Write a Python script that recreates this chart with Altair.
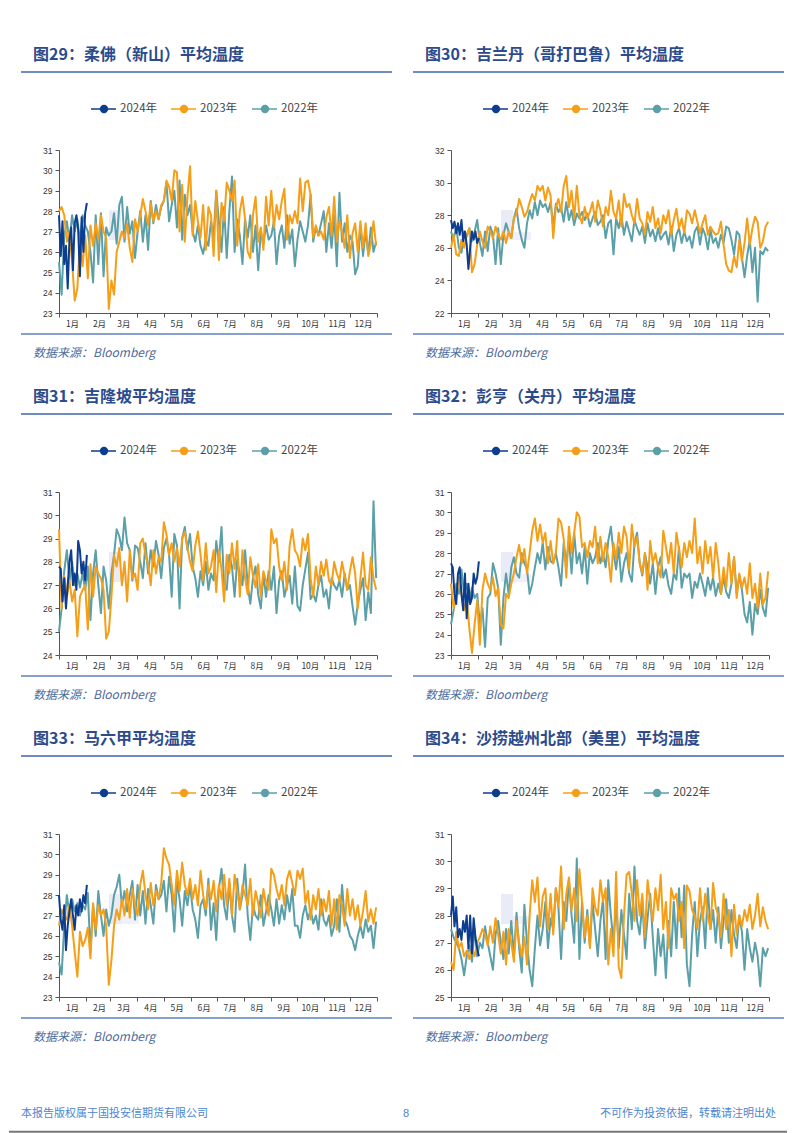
import altair as alt
import pandas as pd

SERIES = ["2024年", "2023年", "2022年"]
COLORS = {"2024年": "#0C3D8E", "2023年": "#F59E17", "2022年": "#5B9FA8"}
MONTH_STARTS = [0, 31, 59, 90, 120, 151, 181, 212, 243, 273, 304, 334, 365]

TITLES = [
    "图29：柔佛（新山）平均温度",
    "图30：吉兰丹（哥打巴鲁）平均温度",
    "图31：吉隆坡平均温度",
    "图32：彭亨（关丹）平均温度",
    "图33：马六甲平均温度",
    "图34：沙捞越州北部（美里）平均温度",
]
Y_DOMAINS = [[23, 31], [22, 32], [24, 31], [23, 31], [23, 31], [25, 31]]
Y_TICKS = [
    [23, 24, 25, 26, 27, 28, 29, 30, 31],
    [22, 24, 26, 28, 30, 32],
    [24, 25, 26, 27, 28, 29, 30, 31],
    [23, 24, 25, 26, 27, 28, 29, 30, 31],
    [23, 24, 25, 26, 27, 28, 29, 30, 31],
    [25, 26, 27, 28, 29, 30, 31],
]
SOURCE = "数据来源：Bloomberg"
FOOTER_LEFT = "本报告版权属于国投安信期货有限公司"
FOOTER_MID = "8"
FOOTER_RIGHT = "不可作为投资依据，转载请注明出处"

JOHOR_2022 = [
    25.5, 23.9, 26.8, 27.5, 26.5, 27.8, 27.0, 27.6, 26.5, 27.8, 27.3,
    27.0, 26.0, 24.5, 27.8, 25.4, 27.9, 24.8, 27.2, 26.8,
    27.0, 27.9, 26.4, 28.3, 28.7, 26.5, 28.2, 26.9, 27.5, 25.7,
    27.0, 28.0, 26.5, 27.8, 26.1, 28.5, 27.4, 28.3, 27.6, 28.2,
    28.5, 29.4, 27.5, 28.3, 29.0, 27.2, 29.5, 26.6, 28.8, 27.8, 28.3,
    27.0, 26.5, 27.3, 26.3, 25.9, 26.6, 26.3, 27.5, 26.8, 29.0,
    27.5, 26.0, 28.2, 25.7, 28.0, 29.7, 26.0, 27.6, 26.8, 25.4,
    27.6, 26.7, 27.8, 26.0, 27.3, 25.1, 27.0, 26.4, 27.3, 26.6,
    26.8, 27.5, 25.4, 26.8, 27.3, 26.2, 27.8, 26.4, 27.1, 25.3,
    26.6, 27.5, 27.0, 26.5, 27.3, 28.8, 26.5, 27.2, 26.8, 27.4, 28.0,
    26.0, 27.4, 26.2, 27.8, 25.3, 28.9, 26.5, 27.4, 26.0, 26.8,
    26.5, 24.9, 25.3, 27.3, 25.8, 27.0, 25.9, 27.2, 26.0, 26.5,
]
JOHOR_2023 = [
    28.0, 28.2, 27.8, 26.5, 27.0, 25.5, 23.6, 24.2, 26.5, 25.3, 26.8,
    24.7, 27.3, 26.3, 27.4, 26.6, 27.8, 27.0, 26.7, 23.2,
    24.6, 23.9, 26.0, 26.5, 27.0, 26.7, 27.4, 26.2, 25.5, 27.6,
    27.0, 27.8, 28.6, 28.0, 27.3, 28.4, 27.5, 28.0, 27.6, 28.3,
    28.5, 29.5, 29.2, 28.5, 30.0, 29.9, 27.0, 29.3, 26.5, 28.7, 30.2,
    26.8, 28.5, 27.5, 26.7, 28.3, 26.1, 28.2, 27.8, 25.8, 29.0,
    25.6, 28.4, 27.5, 29.4, 29.0, 28.5, 29.5, 26.3, 28.0, 28.7,
    27.6, 26.0, 25.7, 27.8, 28.7, 26.5, 27.2, 26.1, 28.7, 27.3,
    29.0, 27.2, 28.3, 27.6, 28.5, 29.1, 26.6, 27.8, 27.4, 28.0,
    27.4, 29.6, 28.0, 29.4, 29.5, 28.8, 26.7, 27.3, 26.8, 27.0, 26.6,
    27.7, 28.2, 26.8, 28.7, 26.5, 27.5, 27.0, 26.2, 27.8, 25.7,
    26.9, 27.4, 26.0, 27.5, 26.2, 27.4, 25.8, 26.4, 27.5, 26.3,
]
JOHOR_2024 = [27.8, 25.8, 27.5, 25.4, 26.3, 24.2, 26.6, 27.2, 25.1, 27.4, 27.8, 27.1, 24.8, 27.7, 26.0, 27.9, 28.4]

KELANTAN_2022 = [
    27.0, 26.5, 27.3, 26.0, 25.7, 27.0, 26.7, 27.2, 26.4, 27.0, 27.7,
    26.3, 25.5, 27.0, 25.8, 27.3, 26.8, 25.0, 27.2, 25.0,
    26.8, 27.5, 27.0, 26.6, 27.8, 28.4, 27.2, 26.5, 26.0, 27.5,
    28.3, 27.8, 28.8, 28.0, 28.9, 28.5, 28.7, 28.2, 28.8, 27.3,
    28.7, 28.2, 28.5, 27.6, 28.8, 27.7, 28.3, 27.4, 28.1, 27.8, 28.2,
    27.7, 28.1, 27.3, 27.8, 28.2, 27.4, 27.6, 28.0, 26.6, 27.5,
    27.7, 25.6, 27.8, 27.2, 28.0, 26.8, 27.6, 27.0, 26.4, 27.7,
    27.2, 26.8, 27.3, 26.3, 27.5, 26.7, 27.1, 26.4, 27.2, 26.5,
    26.8, 27.0, 26.2, 27.3, 25.8, 26.8, 27.2, 26.3, 27.0, 26.4,
    26.7, 26.0, 27.0, 27.3, 26.2, 27.2, 26.8, 25.9, 27.1, 26.3, 26.6,
    26.0, 26.8, 26.3, 27.3, 27.2, 26.5, 25.6, 27.0, 26.8, 25.4,
    24.2, 25.5, 26.5, 24.5, 26.0, 22.7, 25.8, 25.6, 26.0, 25.8,
]
KELANTAN_2023 = [
    26.0, 26.8, 25.6, 25.5, 26.5, 26.0, 26.8, 27.2, 24.5, 25.0, 26.2,
    27.0, 26.4, 26.0, 27.3, 27.0, 26.6, 27.3, 26.8, 26.5,
    27.0, 26.3, 27.0, 26.6, 27.8, 28.1, 29.0, 28.5, 27.9, 28.2,
    28.8, 29.3, 28.9, 29.8, 29.5, 29.8, 28.9, 29.7, 29.2, 26.6,
    28.5, 29.0, 28.2, 29.8, 30.4, 28.5, 29.5, 27.8, 29.8, 28.0, 27.5,
    28.5, 27.8, 28.2, 28.8, 27.6, 28.9, 28.3, 27.3, 28.5, 28.0,
    29.5, 28.2, 27.8, 28.9, 27.3, 29.3, 28.5, 28.7, 28.0, 27.5,
    29.0, 27.8, 27.5, 26.8, 28.2, 27.6, 28.5, 27.2, 27.8, 26.9,
    28.0, 27.5, 28.3, 26.8, 27.7, 28.4, 27.2, 27.8, 26.9, 28.3,
    28.1, 27.5, 28.3, 27.6, 26.9, 27.5, 28.0, 26.8, 27.3, 27.0, 26.8,
    26.9, 27.6, 26.2, 25.0, 24.6, 24.5, 25.5, 24.8, 26.5, 25.2,
    26.3, 27.8, 26.2, 27.2, 27.9, 27.6, 26.0, 26.4, 27.3, 27.6,
]
KELANTAN_2024 = [27.7, 27.2, 27.6, 26.9, 27.5, 26.8, 27.7, 26.4, 27.0, 26.2, 24.7, 26.0, 27.0, 26.5, 27.0, 26.3, 26.6]

KL_2022 = [
    25.0, 26.0, 27.6, 28.5, 27.2, 28.0, 27.0, 27.5, 26.9, 27.5, 26.8,
    27.8, 25.5, 27.5, 28.5, 27.0, 25.8, 27.8, 27.2, 26.0,
    27.5, 28.3, 29.4, 29.1, 28.5, 29.9, 28.8, 28.5, 27.2, 28.7,
    28.6, 28.0, 27.3, 28.8, 27.5, 28.5, 27.8, 28.9, 28.3, 27.3,
    28.6, 29.0, 28.3, 26.5, 29.2, 28.7, 26.0, 29.0, 29.5, 28.5, 29.2,
    27.8, 27.3, 26.5, 27.6, 27.0, 28.0, 26.8, 27.5, 27.2, 28.9,
    28.0, 29.5, 27.0, 26.8, 28.3, 27.8, 26.5, 28.1, 27.4, 27.0,
    28.5, 27.0, 26.2, 27.3, 27.8, 26.6, 26.0, 27.5, 26.5, 27.6,
    26.8, 27.8, 25.8, 27.2, 27.6, 26.5, 27.0, 27.4, 26.2, 27.8,
    26.1, 25.9, 27.0, 27.7, 28.4, 26.4, 26.6, 26.3, 27.0, 27.4, 26.5,
    26.8, 26.0, 27.3, 27.0, 26.8, 27.2, 26.5, 27.5, 26.8, 27.0,
    26.1, 25.3, 26.2, 26.8, 27.3, 25.5, 26.7, 25.8, 30.6, 27.3,
]
KL_2023 = [
    29.4, 26.0, 27.4, 26.5, 27.2, 26.3, 26.8, 24.8, 26.5, 26.8, 27.0,
    25.1, 27.9, 26.5, 27.8, 27.5, 27.3, 26.8, 24.7, 25.0,
    26.5, 28.3, 27.8, 28.6, 27.0, 28.0, 26.3, 28.5, 27.3, 27.5,
    26.8, 28.8, 29.0, 28.3, 27.9, 27.0, 28.5, 27.5, 28.2, 28.0,
    29.7, 29.2, 28.3, 28.8, 28.0, 28.6, 27.8, 29.0, 29.3, 28.6, 28.0,
    27.6, 28.7, 29.3, 28.3, 27.2, 28.8, 27.5, 27.8, 28.5, 26.7,
    28.5, 27.7, 26.3, 28.3, 27.5, 28.8, 27.7, 28.9, 26.5, 28.5,
    27.3, 26.6, 28.2, 27.4, 26.9, 27.9, 26.5, 27.6, 27.2, 26.8,
    29.4, 28.8, 29.0, 27.8, 27.2, 28.0, 26.8, 28.7, 29.4, 28.5,
    28.3, 27.8, 29.0, 28.5, 29.2, 27.3, 26.5, 27.8, 27.0, 28.0, 27.4,
    28.1, 27.2, 27.0, 28.0, 27.5, 27.2, 28.0, 27.4, 26.8, 27.6,
    28.2, 27.5, 26.0, 27.3, 28.4, 27.0, 26.8, 28.2, 27.3, 26.8,
]
KL_2024 = [27.8, 27.7, 26.3, 27.3, 26.0, 27.0, 28.0, 28.5, 27.0, 27.5, 26.8, 28.9, 28.5, 27.5, 28.0, 27.2, 28.3]

PAHANG_2022 = [
    24.5, 25.2, 26.5, 26.0, 27.2, 26.0, 26.5, 25.6, 26.3, 25.8, 26.0,
    24.5, 25.3, 23.4, 25.8, 26.0, 27.5, 27.0, 26.3, 23.5,
    25.8, 27.0, 26.0, 27.3, 27.8, 27.0, 26.8, 28.0, 27.5, 27.2,
    26.0, 26.5, 27.3, 28.0, 27.5, 28.5, 27.2, 28.3, 27.6, 27.5,
    28.0, 27.3, 26.4, 28.5, 27.5, 28.7, 27.0, 29.0, 27.5, 28.0, 27.0,
    28.3, 26.5, 28.0, 27.5, 27.8, 28.5, 27.5, 28.0, 27.3, 28.6,
    29.3, 28.0, 27.2, 28.3, 26.6, 27.5, 28.0, 27.0, 26.6, 28.5,
    29.0, 27.5, 26.9, 28.0, 27.3, 26.5, 27.5, 26.0, 27.3, 27.8,
    26.8, 27.2, 26.4, 26.0, 27.0, 26.7, 28.3, 26.3, 27.0, 26.8,
    27.0, 25.8, 26.6, 26.3, 27.0, 26.5, 25.9, 26.8, 26.2, 26.8, 25.9,
    26.5, 26.0, 26.8, 26.1, 25.8, 26.5, 27.8, 26.0, 26.9, 26.2,
    25.0, 24.6, 25.6, 24.0, 25.5, 25.0, 26.2, 25.3, 24.9, 26.3,
]
PAHANG_2023 = [
    26.5, 25.3, 25.8, 26.8, 26.0, 25.2, 25.8, 24.3, 23.1, 24.5, 25.7,
    23.5, 26.2, 27.0, 26.5, 26.2, 26.8, 25.9, 26.3, 24.5,
    24.3, 26.0, 25.8, 26.5, 27.0, 27.8, 28.4, 27.5, 28.2, 27.0,
    28.0, 29.1, 29.7, 28.6, 29.4, 28.5, 29.0, 27.5, 28.6, 27.5,
    28.0, 29.7, 29.5, 28.7, 26.8, 29.3, 28.0, 29.0, 30.0, 29.8, 28.3,
    28.5, 27.8, 28.6, 28.3, 29.3, 27.5, 28.8, 27.6, 28.5, 27.8,
    26.6, 28.5, 27.7, 29.0, 28.0, 29.3, 28.8, 27.2, 29.4, 28.3,
    28.8, 27.5, 27.0, 28.0, 26.2, 28.6, 27.5, 28.0, 27.3, 26.8,
    29.1, 28.3, 27.5, 28.5, 27.0, 29.0, 28.2, 27.3, 28.5, 27.8,
    28.6, 28.0, 29.7, 27.5, 28.3, 27.0, 28.6, 27.5, 28.3, 26.8, 28.5,
    27.5, 26.0, 27.3, 26.3, 28.0, 26.5, 27.8, 25.8, 27.0, 26.3,
    26.8, 26.0, 27.5, 25.8, 26.5, 25.3, 27.0, 25.5, 25.8, 27.1,
]
PAHANG_2024 = [27.5, 27.3, 26.0, 25.5, 27.0, 27.3, 26.0, 25.2, 27.0, 24.8, 26.5, 25.5, 25.8, 27.0, 26.5, 26.8, 27.6]

MELAKA_2022 = [
    24.7, 24.1, 26.5, 28.0, 27.0, 27.8, 27.2, 27.6, 27.0, 27.5, 27.3,
    28.1, 25.2, 27.5, 26.0, 28.2, 27.0, 26.0, 27.3, 26.5,
    27.0, 28.0, 28.4, 29.0, 27.5, 28.2, 27.2, 28.0, 28.7, 26.8,
    28.5, 27.0, 28.2, 26.6, 28.3, 27.5, 26.6, 28.5, 27.8, 28.0,
    28.7, 27.2, 28.9, 28.0, 26.2, 28.7, 27.8, 26.5, 28.2, 27.5, 28.5,
    27.3, 26.8, 25.9, 27.5, 27.8, 27.0, 28.8, 26.3, 27.6, 25.8,
    28.3, 29.3, 27.5, 26.8, 28.6, 27.0, 26.2, 28.8, 27.3, 28.0,
    29.5, 27.0, 25.8, 27.5, 27.0, 26.8, 28.0, 26.5, 27.2, 28.0,
    27.3, 26.5, 27.8, 26.6, 27.5, 26.8, 28.0, 27.2, 28.3, 26.5,
    26.5, 25.9, 27.0, 27.5, 26.8, 27.3, 26.6, 27.0, 26.3, 27.8, 26.8,
    26.5, 27.0, 26.0, 26.5, 27.8, 26.2, 28.5, 26.8, 26.5, 26.0,
    25.8, 25.3, 26.0, 26.5, 25.9, 26.8, 26.2, 26.5, 25.4, 26.7,
]
MELAKA_2023 = [
    26.5, 27.3, 27.0, 26.8, 27.5, 26.5, 25.2, 24.0, 26.2, 25.5, 25.8,
    26.4, 24.9, 27.6, 26.3, 27.5, 27.0, 27.3, 26.5, 23.6,
    24.8, 26.5, 27.3, 26.8, 27.8, 27.0, 28.3, 26.9, 28.3, 27.5,
    27.0, 28.5, 29.2, 28.0, 27.3, 28.6, 27.5, 28.2, 27.8, 28.6,
    30.3, 29.8, 29.5, 28.5, 27.5, 29.2, 28.2, 29.6, 28.5, 28.0, 28.8,
    27.8, 28.5, 27.5, 29.2, 28.0, 27.3, 28.5, 27.8, 28.7, 27.2,
    28.5, 27.8, 29.0, 27.5, 28.8, 27.0, 29.0, 28.2, 27.3, 28.5,
    28.0, 27.5, 28.8, 27.0, 28.2, 27.6, 26.9, 28.3, 27.5, 27.0,
    29.3, 29.0, 28.3, 27.8, 28.5, 27.5, 28.8, 29.2, 28.6, 28.0,
    29.2, 28.8, 29.3, 27.6, 28.2, 26.8, 28.0, 27.3, 28.3, 27.0, 27.8,
    27.2, 28.2, 26.5, 27.8, 26.3, 28.0, 27.5, 26.5, 28.3, 27.0,
    27.8, 26.8, 27.5, 26.5, 27.2, 28.2, 26.7, 27.3, 26.6, 27.4,
]
MELAKA_2024 = [28.0, 26.8, 26.3, 27.5, 25.3, 26.5, 27.2, 27.8, 27.0, 26.3, 27.5, 27.0, 27.8, 27.2, 28.0, 27.6, 28.5]

MIRI_2022 = [
    27.5, 27.2, 27.0, 26.8, 26.4, 25.8, 26.5, 26.9, 26.3, 27.5, 26.5,
    27.0, 26.8, 27.6, 27.0, 26.5, 26.0, 27.3, 27.8, 27.0,
    26.4, 27.5, 26.6, 27.8, 26.5, 28.1, 26.8, 25.9, 28.4, 27.0,
    26.0, 25.4, 26.8, 28.0, 26.9, 27.5, 28.5, 26.8, 27.9, 27.5,
    29.0, 28.3, 26.4, 28.5, 27.8, 29.3, 28.0, 27.0, 30.1, 26.4, 28.5,
    27.0, 28.2, 26.9, 28.5, 27.5, 26.5, 27.8, 28.6, 26.4, 29.3,
    28.0, 27.0, 28.5, 26.8, 28.2, 27.3, 26.4, 28.8, 27.5, 29.8,
    27.8, 27.3, 28.5, 26.8, 27.9, 28.8, 27.2, 25.8, 27.5, 26.5,
    27.3, 25.7, 27.8, 26.5, 28.5, 26.8, 29.0, 27.2, 29.1, 26.2,
    25.4, 27.3, 28.5, 26.5, 27.8, 28.3, 26.8, 29.0, 27.5, 28.2, 27.0,
    28.3, 26.8, 27.8, 28.6, 27.0, 28.2, 27.3, 26.8, 28.0, 27.4,
    26.0, 27.5, 26.8, 26.3, 27.0, 26.5, 25.4, 26.8, 26.5, 26.8,
]
MIRI_2023 = [
    26.3, 26.0, 27.4, 26.8, 27.0, 26.5, 26.7, 26.4, 26.8, 26.5, 27.0,
    27.2, 27.5, 27.3, 26.9, 27.6, 27.0, 27.9, 27.3, 26.6,
    27.4, 26.2, 27.5, 27.0, 26.3, 27.8, 27.0, 26.5, 27.2, 26.2,
    28.0, 29.3, 28.5, 29.4, 27.6, 28.7, 29.0, 27.5, 28.8, 27.3,
    29.0, 28.3, 29.8, 27.5, 28.8, 29.4, 28.2, 29.0, 27.8, 29.7, 28.5,
    27.2, 28.0, 26.8, 29.0, 28.3, 28.0, 29.3, 28.5, 29.0, 26.2,
    27.5, 26.5, 29.6, 26.1, 25.7, 28.0, 29.5, 29.6, 28.8, 27.8,
    29.3, 28.0, 28.8, 27.2, 29.3, 28.5, 27.8, 29.0, 28.2, 29.5,
    27.5, 28.5, 26.8, 29.0, 28.6, 28.8, 27.8, 28.5, 26.8, 29.1,
    28.9, 28.2, 28.0, 27.5, 29.0, 27.8, 28.8, 28.0, 27.5, 29.2, 28.3,
    28.0, 27.2, 28.8, 27.5, 28.2, 26.5, 28.4, 27.3, 28.0, 27.6,
    28.2, 27.8, 28.4, 27.5, 28.0, 28.8, 27.6, 28.3, 27.8, 27.5,
]
MIRI_2024 = [28.0, 28.7, 27.6, 28.3, 27.2, 27.5, 27.1, 27.8, 27.4, 28.0, 26.8, 28.0, 26.6, 27.9, 27.2, 26.8, 26.5]

PANELS = [
    (JOHOR_2022, JOHOR_2023, JOHOR_2024),
    (KELANTAN_2022, KELANTAN_2023, KELANTAN_2024),
    (KL_2022, KL_2023, KL_2024),
    (PAHANG_2022, PAHANG_2023, PAHANG_2024),
    (MELAKA_2022, MELAKA_2023, MELAKA_2024),
    (MIRI_2022, MIRI_2023, MIRI_2024),
]

W, H = 318, 163
ROW_PITCH = 341.4
TOP_B, BOT_B = -115, -115 + ROW_PITCH
ONE = pd.DataFrame({"k": [0]})

TITLE_COLOR = "#2C4B8D"
RULE_COLOR = "#3E66AD"
SRC_RULE_COLOR = "#5C80BC"
SRC_COLOR = "#4D6A9E"
AXIS_COLOR = "#555555"
CJK = "Noto Sans CJK SC"


def frame(vals, full):
    n = len(vals)
    if full:
        days = [i * 364.0 / (n - 1) for i in range(n)]
    else:
        days = [i * 2.0 for i in range(n)]
    return pd.DataFrame({"day": days, "temp": vals})


x_label_expr = (
    "datum.value < 365 ? (indexof(" + str(MONTH_STARTS[:-1]) + ", datum.value) + 1) + '月' : ''"
)


def line_layer(df, color, dom, ticks):
    return alt.Chart(df).mark_line(
        color=color, strokeWidth=2, strokeJoin="round"
    ).encode(
        x=alt.X(
            "day:Q",
            scale=alt.Scale(domain=[0, 365], nice=False, zero=False),
            axis=alt.Axis(
                values=MONTH_STARTS, labelExpr=x_label_expr, labelOffset=13,
                tickSize=4, labelPadding=2, domainColor=AXIS_COLOR, tickColor=AXIS_COLOR,
                labelColor="#333333", labelFontSize=8.5, labelFont=CJK, grid=False,
                title=None, labelOverlap=False, labelFlush=False,
            ),
        ),
        y=alt.Y(
            "temp:Q",
            scale=alt.Scale(domain=dom, nice=False, zero=False),
            axis=alt.Axis(
                values=ticks, tickSize=4, labelPadding=3, domainColor=AXIS_COLOR,
                tickColor=AXIS_COLOR, labelColor="#333333", labelFontSize=8.5,
                labelFont="Liberation Sans", grid=False, title=None,
            ),
        ),
    )


def txt(s, x, y, **kw):
    return alt.Chart(ONE).mark_text(text=s, **kw).encode(x=alt.value(x), y=alt.value(y))


def hrule(x0, x1, y, color, w):
    return alt.Chart(ONE).mark_rule(color=color, strokeWidth=w).encode(
        x=alt.value(x0), x2=alt.value(x1), y=alt.value(y)
    )


def box(x0, x1, y0, y1, color, opacity):
    return alt.Chart(ONE).mark_rect(color=color, opacity=opacity).encode(
        x=alt.value(x0), x2=alt.value(x1), y=alt.value(y0), y2=alt.value(y1)
    )


def panel(i, right):
    v22, v23, v24 = PANELS[i]
    dom, ticks = Y_DOMAINS[i], Y_TICKS[i]
    layers = []
    if right:
        layers.append(box(-38, 336, TOP_B, BOT_B, "#ffffff", 0))
    else:
        layers.append(box(-50, 333, TOP_B, BOT_B, "#ffffff", 0))
    # faint watermark
    layers.append(box(50, 62, 60, 90, "#C9CEEA", 0.4))
    layers.append(box(62, 80, 82, 90, "#C9CEEA", 0.3))
    layers.append(line_layer(frame(v22, True), COLORS["2022年"], dom, ticks))
    layers.append(line_layer(frame(v23, True), COLORS["2023年"], dom, ticks))
    layers.append(line_layer(frame(v24, False), COLORS["2024年"], dom, ticks))
    # title & underline
    layers.append(txt(TITLES[i], -26, -95, align="left", baseline="middle", font=CJK,
                      fontSize=16, fontWeight="bold", color=TITLE_COLOR))
    layers.append(hrule(-38, 333, -78, RULE_COLOR, 1.5))
    # legend
    leg = [(32, 57, 45, 61), (112, 137, 125, 141), (193, 218, 206, 222)]
    for name, (l0, l1, c, t) in zip(SERIES, leg):
        col = COLORS[name]
        layers.append(hrule(l0, l1, -41, col, 1.5))
        layers.append(alt.Chart(ONE).mark_point(filled=True, size=70, opacity=1, color=col)
                      .encode(x=alt.value(c), y=alt.value(-41)))
        layers.append(txt(name, t, -41, align="left", baseline="middle", font=CJK,
                          fontSize=11.5, color="#444444"))
    # source
    layers.append(hrule(-38, 333, 184, SRC_RULE_COLOR, 1.5))
    layers.append(txt(SOURCE, -26, 203, align="left", baseline="middle", font=CJK,
                      fontSize=12, fontStyle="italic", color=SRC_COLOR))
    return alt.layer(*layers).properties(width=W, height=H)


rows = [
    alt.hconcat(panel(2 * r, False), panel(2 * r + 1, True), spacing=19)
    for r in range(3)
]

# footer shares the panels' origin (page x 58)
FOOT_COLOR = "#4A86D2"
footer = alt.layer(
    box(-50, 728, 0, 72, "#ffffff", 0),
    txt(FOOTER_LEFT, -38, 52.8, align="left", baseline="middle", font=CJK, fontSize=11, color=FOOT_COLOR),
    txt(FOOTER_MID, 347, 52.8, align="center", baseline="middle", font="Liberation Sans", fontSize=11, color=FOOT_COLOR),
    txt(FOOTER_RIGHT, 717, 52.8, align="right", baseline="middle", font=CJK, fontSize=11, color=FOOT_COLOR),
    hrule(-50, 728, 70.8, "#777777", 2),
).properties(width=700, height=72)

chart = alt.vconcat(*rows, footer, spacing=0).properties(
    padding={"left": 0, "top": 27, "right": 0, "bottom": 0},
    background="white",
).configure_view(strokeWidth=0)

chart.save("out.html", embed_options={"renderer": "svg", "actions": False})
